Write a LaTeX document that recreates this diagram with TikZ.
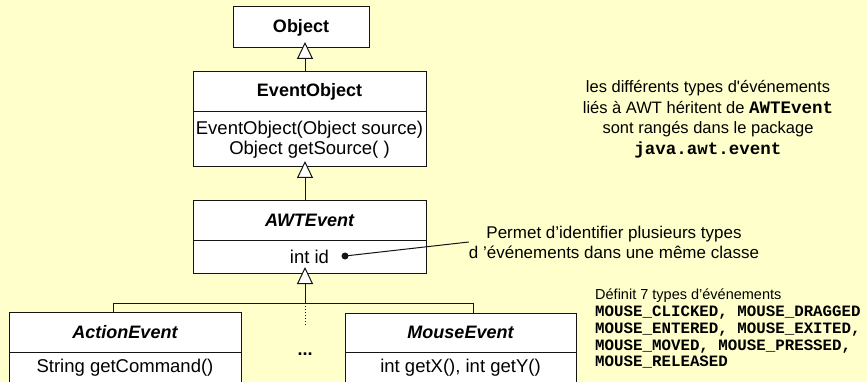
\documentclass[tikz,border=0pt]{standalone}
\usepackage{fontspec}
\setmainfont{Liberation Sans}
\setmonofont{Liberation Mono}
\usetikzlibrary{arrows.meta,positioning,calc}
\definecolor{slidebg}{RGB}{255,255,204}
\definecolor{umlline}{RGB}{20,20,20}
\tikzset{
  uml head/.style={
    draw=umlline,
    fill=white,
    line width=1pt,
    inner sep=0pt,
    outer sep=0pt,
    font=\fontsize{18}{20}\selectfont\bfseries,
  },
  uml body/.style={
    draw=umlline,
    fill=white,
    line width=1pt,
    inner sep=0pt,
    outer sep=0pt,
    align=center,
    font=\fontsize{18.5}{20}\selectfont,
  },
  uml inherit/.style={
    -{Triangle[length=17pt,width=16pt,fill=white]},
    line width=1pt,
    draw=umlline,
    shorten >=-6pt,
  },
  uml tree/.style={
    line width=1pt,
    draw=umlline,
  },
  note text/.style={
    align=center,
    inner sep=0pt,
    font=\fontsize{16.5}{20.5}\selectfont,
  },
}

\begin{document}
\begin{tikzpicture}[x=1pt,y=-1pt]
  \fill[slidebg] (0,0) rectangle (867,382);
  \useasboundingbox (0,0) rectangle (867,382);
  \coordinate (spine) at (305,0);

  % class boxes
  \node[uml head, minimum width=136pt, minimum height=41pt] (obj) at (301,27.5) {Object};
  \node[uml head, minimum width=233pt, minimum height=40pt] (eohead) at (309.5,92) {EventObject};
  \node[uml body, minimum width=233pt, minimum height=55pt, below=0pt of eohead] (eobody)
    {EventObject(Object source)\\Object getSource( )};
  \node[uml head, font=\fontsize{18}{20}\selectfont\bfseries\itshape,
    minimum width=233pt, minimum height=39pt] (awthead) at (309.5,220.5) {AWTEvent};
  \node[uml body, minimum width=233pt, minimum height=33pt, below=0pt of awthead] (awtbody) {int id};
  \node[uml head, font=\fontsize{18}{20}\selectfont\bfseries\itshape,
    minimum width=232pt, minimum height=40pt] (acthead) at (125,332) {ActionEvent};
  \node[uml body, minimum width=232pt, minimum height=32pt, below=0pt of acthead] (actbody) {String getCommand()};
  \node[uml head, font=\fontsize{18}{20}\selectfont\bfseries\itshape,
    minimum width=231pt, minimum height=39pt] (mousehead) at (460.5,332.5) {MouseEvent};
  \node[uml body, minimum width=231pt, minimum height=32pt, below=0pt of mousehead] (mousebody) {int getX(), int getY()};
  \node[font=\fontsize{18}{20}\selectfont\bfseries] (more) at (305,354) {...};

  % inheritance
  \coordinate (jl) at (113,303);
  \coordinate (jr) at (473,303);
  \coordinate (dotend) at (305,327);
  \draw[uml inherit] (eohead.north -| spine) -- (obj.south -| spine);
  \draw[uml inherit] (awthead.north -| spine) -- (eobody.south -| spine);
  \draw[uml tree] (acthead.north -| jl) -- (jl) -- (jr) -- (mousehead.north -| jr);
  \draw[uml inherit] (jl -| spine) -- (awtbody.south -| spine);
  \draw[uml tree, dotted, line width=0.6pt] (jl -| spine) -- (dotend);

  % notes
  \node[note text, font=\fontsize{17}{20}\selectfont] (idnote) at (614,242)
    {Permet d’identifier plusieurs types\\d ’événements dans une même classe};
  \coordinate (iddot) at (345,256);
  \fill[umlline] (iddot) circle (3.5pt);
  \draw[uml tree] (iddot) -- (idnote.west);
  \node[note text] (awtnote) at (708,119)
    {les différents types d\textquotesingle événements\\
     liés à AWT héritent de \textbf{\texttt{\fontsize{17.5}{20.5}\selectfont AWTEvent}}\\
     sont rangés dans le package\\
     \textbf{\texttt{\fontsize{17.5}{20.5}\selectfont java.awt.event}}};
  \node[inner sep=0pt, anchor=north west, font=\fontsize{14.5}{17}\selectfont] (mousetitle) at (595,289)
    {Définit 7 types d’événements};
  \node[inner sep=0pt, below=3pt of mousetitle.south west, anchor=north west, align=left,
    font=\fontsize{15.8}{16.7}\selectfont\ttfamily\bfseries] (mousetypes)
    {MOUSE\_CLICKED, MOUSE\_DRAGGED\\MOUSE\_ENTERED, MOUSE\_EXITED,\\MOUSE\_MOVED, MOUSE\_PRESSED,\\MOUSE\_RELEASED};
\end{tikzpicture}
\end{document}
